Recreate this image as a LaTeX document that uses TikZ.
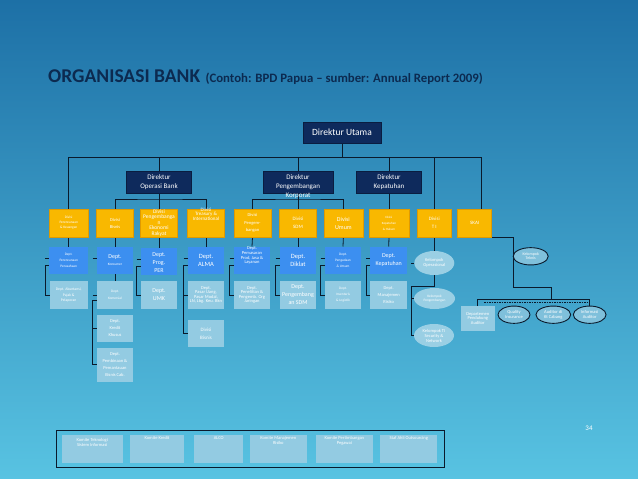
\documentclass[tikz,border=0pt]{standalone}
\usepackage{fontspec}
\setmainfont{Carlito}
\usetikzlibrary{shapes.geometric}
\pgfdeclarelayer{bg}
\pgfdeclarelayer{lines}
\pgfsetlayers{bg,lines,main}
\definecolor{navy}{HTML}{0E2A5C}
\definecolor{gold}{HTML}{F9B800}
\definecolor{goldedge}{HTML}{E09A00}
\definecolor{deptblue}{HTML}{3C8FF0}
\definecolor{lightbox}{HTML}{93CBE2}
\definecolor{lightell}{HTML}{9ACFE4}
\definecolor{darkell}{HTML}{7FC0DB}
\definecolor{bgtop}{HTML}{1D70A6}
\definecolor{bgmid}{HTML}{2C95C6}
\definecolor{bgbot}{HTML}{58C3E2}
\definecolor{ln}{HTML}{0A1A2C}
\definecolor{titlec}{HTML}{0C2A50}
\newcommand\fsz[2]{\fontsize{#1}{#2}\selectfont}
\tikzset{
  base/.style={inner sep=0pt, outer sep=0pt, align=center, text=white, font=\fsz{5}{6}},
  dirbox/.style={base, rectangle, fill=navy, draw=navy!70!black, line width=0.5pt, minimum width=65pt, minimum height=22pt, font=\fsz{7}{9}},
  divbox/.style={base, rectangle, fill=gold, draw=goldedge, line width=0.5pt, minimum width=36.6pt, minimum height=28pt},
  deptbox/.style={base, rectangle, fill=deptblue, minimum width=36.6pt, minimum height=27pt},
  subbox/.style={base, rectangle, fill=lightbox, minimum width=36.6pt, minimum height=28pt},
  kel/.style={base, ellipse, fill=lightell, minimum width=40pt, minimum height=23pt},
  kelb/.style={base, ellipse, fill=darkell, draw=ln, line width=0.9pt, minimum width=32pt, minimum height=17.3pt},
  kombox/.style={base, rectangle, fill=lightbox, minimum height=27.7pt},
  conn/.style={draw=ln, line width=0.8pt},
  txt/.style={base}
}
\begin{document}
\begin{tikzpicture}[x=1pt,y=-1pt]
\begin{pgfonlayer}{bg}
\shade[top color=bgtop, middle color=bgmid, bottom color=bgbot] (0,0) rectangle (638,479);
\end{pgfonlayer}
\useasboundingbox (0,0) rectangle (638,479);

% title
\node[anchor=base west, inner sep=0pt, text=titlec, font=\fsz{19.5}{20}\bfseries] (title) at (48,82) {ORGANISASI BANK};
\node[anchor=base west, inner sep=0pt, text=titlec, font=\fsz{12.8}{13}\bfseries] (subtitle) at ([xshift=5pt]title.base east) {(Contoh: BPD Papua -- sumber: Annual Report 2009)};

% directors
\node[dirbox, minimum width=78pt, minimum height=21pt, font=\fsz{9.5}{11}] (du) at (342,132.5) {Direktur Utama};
\node[dirbox] (dops) at (159,182) {Direktur\\Operasi Bank};
\node[dirbox, minimum width=70pt] (dpk) at (298,182) {};
\node[txt, font=\fsz{7}{9}] (dpkt) at (298,187) {Direktur\\Pengembangan\\Korporat};
\node[dirbox] (dkep) at (389,182) {Direktur\\Kepatuhan};

% divisions
\node[divbox, minimum width=39pt, font=\fsz{3.5}{5}] (divpk) at (68.7,223) {Divisi\\Perencanaan\\\& Keuangan};
\node[divbox, font=\fsz{4.5}{7}] (divbis) at (115,223) {Divisi\\Bisnis};
\node[divbox, font=\fsz{5.5}{5.5}] (divper) at (159,223) {Divisi\\Pengembanga\\n\\Ekonomi\\Rakyat};
\node[divbox] (divtr) at (206,223) {};
\node[txt, anchor=north, font=\fsz{5}{4.5}] (divtrt) at ([yshift=1pt]divtr.north) {Divisi\\Treasury \&\\International};
\node[divbox, minimum width=37pt, font=\fsz{4.5}{7.5}] (divpg) at (252.5,223) {Divisi\\Pengem-\\bangan};
\node[divbox, font=\fsz{5}{8}] (divsdm) at (298,223) {Divisi\\SDM};
\node[divbox, minimum width=38.7pt, font=\fsz{6}{8}] (divum) at (343.4,223) {Divisi\\Umum};
\node[divbox, minimum width=40pt, font=\fsz{3.2}{6}] (divkep) at (389,223) {Divisi\\Kepatuhan\\\& Hukum};
\node[divbox, minimum width=33.3pt, font=\fsz{5}{8}] (divti) at (434.3,223) {Divisi\\T I};
\node[divbox, minimum width=34pt, font=\fsz{5}{6}] (skai) at (474.7,223) {SKAI};

% departments
\node[deptbox, minimum width=39pt, font=\fsz{3.5}{6}] (d1) at (68.7,260) {Dept.\\Perencanaan\\Perusahaan};
\node[deptbox, font=\fsz{6}{7}] (d2) at (115,260) {Dept.\\{\fsz{3.5}{6}Konsumer}};
\node[deptbox, font=\fsz{6}{8}] (d3) at (159,261) {};
\node[txt, font=\fsz{6}{8}] (d3t) at (159,263) {Dept.\\Prog.\\PER};
\node[deptbox, font=\fsz{6.5}{8}] (d4) at (206,260) {Dept.\\ALMA};
\node[deptbox] (d5) at (252,260) {};
\node[txt, anchor=north, font=\fsz{4.5}{4.6}] (d5t) at ([yshift=-0.5pt]d5.north) {Dept.\\Pemasaran\\Prod, Jasa \&\\Layanan};
\node[deptbox, font=\fsz{6.5}{8}] (d6) at (298,260) {Dept.\\Diklat};
\node[deptbox, font=\fsz{3.5}{6}] (d7) at (343,260) {Dept.\\Pengadaan\\\& Umum};
\node[deptbox, minimum width=37pt, font=\fsz{6}{8}] (d8) at (388.7,260) {Dept.\\Kepatuhan};

% sub units
\node[subbox, minimum width=37.7pt, font=\fsz{3.8}{5.5}] (s1) at (68.7,295) {Dept. Akuntansi,\\Pajak \&\\Pelaporan};
\node[subbox, font=\fsz{3.5}{7}] (s2a) at (115,295) {Dept.\\Komersial};
\node[subbox, minimum height=26.7pt, font=\fsz{4.5}{7}] (s2b) at (115,328.3) {Dept.\\Kredit\\Khusus};
\node[subbox, minimum height=34pt, font=\fsz{4.5}{7}] (s2c) at (115,364.7) {Dept.\\Pembinaan \&\\Pemantauan\\Bisnis Cab.};
\node[subbox, font=\fsz{6}{8}] (s3) at (159,295) {Dept.\\UMK};
\node[subbox, font=\fsz{4.5}{4.6}] (s4) at (206,295) {Dept.\\Pasar Uang,\\Pasar Modal,\\LN, Lbg. Keu. Bkn};
\node[subbox, minimum height=26.7pt, font=\fsz{5}{8}] (s4b) at (206,333.3) {Divisi\\Bisnis};
\node[subbox, font=\fsz{4.5}{4.6}] (s5) at (252,295) {Dept.\\Penelitian \&\\Pengemb. Org\\Jaringan};
\node[subbox, font=\fsz{6}{8}] (s6) at (298,295) {Dept.\\Pengembang\\an SDM};
\node[subbox, font=\fsz{3.5}{6}] (s7) at (343,295) {Dept.\\Inventaris\\\& Logistik};
\node[subbox, minimum width=37pt, font=\fsz{4.5}{7}] (s8) at (388.7,295) {Dept.\\Manajemen\\Risiko};

% TI groups
\node[kel, minimum width=40pt, minimum height=24pt, font=\fsz{4.5}{5}] (k1) at (434.3,263) {Kelompok\\Operasional};
\node[kel, minimum width=41pt, minimum height=21pt, font=\fsz{3.5}{4.5}] (k2) at (434.5,298.5) {Kelompok\\Pengembangan};
\node[kel, minimum width=40pt, minimum height=23pt, font=\fsz{4.5}{5}] (k3) at (434,335.5) {Kelompok TI\\Security \&\\Network};

% SKAI groups
\node[kelb, minimum width=35pt, font=\fsz{4}{4.5}] (kt) at (530.7,256.3) {Kelompok\\Teknis};
\node[subbox, minimum width=34.3pt, minimum height=24.7pt, font=\fsz{4.5}{4.6}] (dpa) at (477.8,318.3) {Departemen\\Pendukung\\Auditor};
\node[kelb, font=\fsz{4.5}{4.8}] (e1) at (514,314.7) {Quality\\Insurance};
\node[kelb, minimum width=34.7pt, font=\fsz{4.5}{4.8}] (e2) at (553.3,314.7) {Auditor di\\Kt Cabang};
\node[kelb, minimum width=32.7pt, font=\fsz{4.5}{4.8}] (e3) at (589.7,314.7) {Informasi\\Auditor};

% committees
\node[draw=ln, line width=0.9pt, inner sep=0pt, minimum width=388.3pt, minimum height=36.6pt] (kom) at (250.15,449) {};
\node[kombox, minimum width=61pt] (c1) at (92.2,448.9) {};
\node[kombox, minimum width=54pt] (c2) at (157,448.9) {};
\node[kombox, minimum width=49.3pt] (c3) at (218.7,448.9) {};
\node[kombox, minimum width=56.7pt] (c4) at (278.3,448.9) {};
\node[kombox, minimum width=56.7pt] (c5) at (344.3,448.9) {};
\node[kombox, minimum width=57.3pt] (c6) at (408.7,448.9) {};
\node[txt, anchor=north, font=\fsz{4.5}{5}] (c1t) at ([yshift=-3pt]c1.north) {Komite Teknologi\\Sistem Informasi};
\node[txt, anchor=north, font=\fsz{4.5}{5}] (c2t) at ([yshift=-1.5pt]c2.north) {Komite Kredit};
\node[txt, anchor=north, font=\fsz{4.5}{5}] (c3t) at ([yshift=-1.5pt]c3.north) {ALCO};
\node[txt, anchor=north, font=\fsz{4.5}{5}] (c4t) at ([yshift=-1.5pt]c4.north) {Komite Manajemen\\Risiko};
\node[txt, anchor=north, font=\fsz{4.5}{5}] (c5t) at ([yshift=-1.5pt]c5.north) {Komite Pertimbangan\\Pegawai};
\node[txt, anchor=north, font=\fsz{4.5}{5}] (c6t) at ([yshift=-1.5pt]c6.north) {Staf Ahli Outsourcing};

% page number
\node[txt, font=\fsz{7}{8}] (pg) at (589,428) {34};

% connectors
\begin{pgfonlayer}{lines}
\coordinate (bus) at (342,157);
\coordinate (skaitop) at (481,209);
\draw[conn] (du.south) -- (bus);
\foreach \n in {divpk,dops,dpk,dkep,divti} \draw[conn] (\n.north) |- (bus);
\draw[conn] (skaitop) |- (bus);
\coordinate (b2) at (159,199);
\draw[conn] (dops.south) -- (b2);
\draw[conn] (divbis.north) |- (b2) -| (divtr.north);
\draw[conn] (b2) -- (divper.north);
\coordinate (b3) at (298,199);
\draw[conn] (dpk.south) -- (b3);
\draw[conn] (divpg.north) |- (b3) -| (divum.north);
\draw[conn] (b3) -- (divsdm.north);
\draw[conn] (dkep.south) -- (divkep.north);
% division to department
\draw[conn] (divpk.south) -- (d1.north);
\draw[conn] (divbis.south) -- (d2.north);
\draw[conn] (divper.south) -- (d3.north);
\draw[conn] (divtr.south) -- (d4.north);
\draw[conn] (divpg.south) -- (d5.north);
\draw[conn] (divsdm.south) -- (d6.north);
\draw[conn] (divum.south) -- (d7.north);
\draw[conn] (divkep.south) -- (d8.north);
% brackets
\foreach \d/\s in {d1/s1,d3/s3,d5/s5,d6/s6,d7/s7,d8/s8} {
  \draw[conn] ([xshift=-4pt,yshift=2pt]\d.west) -- ([yshift=2pt]\d.west);
  \draw[conn] ([yshift=-5pt]\d.west) -- ++(-4,0) |- (\s.west);
}
\draw[conn] ([xshift=-4pt,yshift=2pt]d4.west) -- ([yshift=2pt]d4.west);
\draw[conn] ([yshift=-5pt]d4.west) -- ++(-4,0) |- (s4b.west);
\draw[conn] (s4.west) -- ++(-4,0);
\draw[conn] ([xshift=-4pt,yshift=2pt]d2.west) -- ([yshift=2pt]d2.west);
\draw[conn] (d2.south) -- (s2a.north);
\draw[conn] ([xshift=-4pt]s2a.west) -- (s2a.west);
\draw[conn] ([yshift=-5pt]s2a.west) -- ++(-4,0) |- (s2c.west);
\draw[conn] (s2b.west) -- ++(-4,0);
% TI
\coordinate (tib) at (411.7,286);
\draw[conn] (divti.south) |- (tib) |- (k3.west);
\draw[conn] (k2.west) -- (k2.west -| tib);
\draw[conn] (k1.west) -- ++(-3,0);
% SKAI
\coordinate (sk1) at (513.3,237);
\coordinate (sk2) at (513.3,287.3);
\coordinate (sk3) at (551,287.3);
\coordinate (sk4) at (551,299.3);
\draw[conn] (skai.south) -- (sk1) -- (sk2) -- (sk3) -- (sk4);
\draw[conn] (dpa.north) |- (sk4) -| (e3.north);
\coordinate (dl) at (484,302);
\coordinate (dr) at (589,302);
\draw[conn, line width=0.6pt, dash pattern=on 1.5pt off 1pt] (dl) -- (dr);
\end{pgfonlayer}
\end{tikzpicture}
\end{document}
